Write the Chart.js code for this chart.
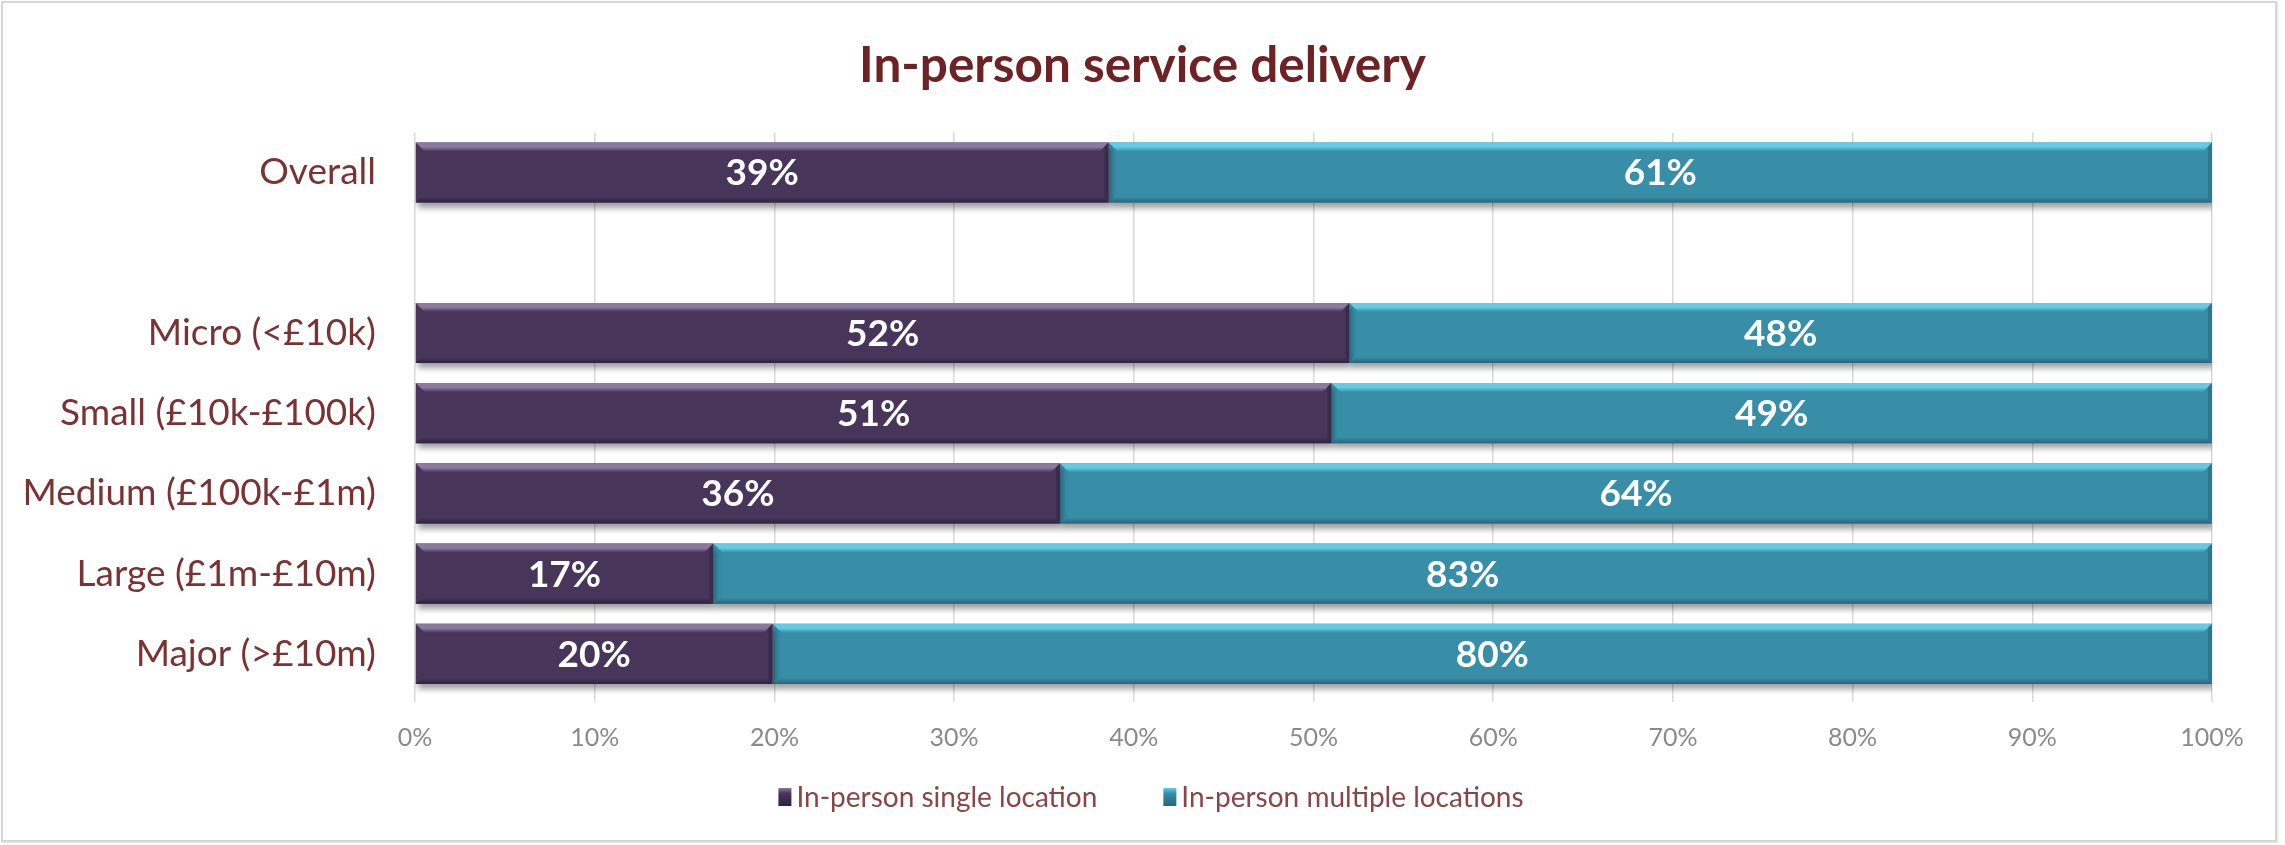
<!DOCTYPE html>
<html>
<head>
<meta charset="utf-8">
<script src="https://cdn.jsdelivr.net/npm/chart.js@4.4.1/dist/chart.umd.min.js"></script>
<style>
  html, body { margin: 0; padding: 0; background: #ffffff; }
  #wrap { position: absolute; left: 0; top: 0; width: 2285px; height: 845px; }
  #frame { position: absolute; left: 1px; top: 1px; width: 2272px; height: 837px;
           border: 2px solid #d6d6d6; box-shadow: 1px 1px 2px rgba(0,0,0,0.12); pointer-events: none; }
</style>
</head>
<body>
<div id="wrap">
  <canvas id="c" width="2285" height="845"></canvas>
  <div id="frame"></div>
</div>
<script>
const chartTitle = 'In-person service delivery';
const categories = ['Overall', '', 'Micro (<£10k)', 'Small (£10k-£100k)', 'Medium (£100k-£1m)', 'Large (£1m-£10m)', 'Major (>£10m)'];
const seriesNames = ['In-person single location', 'In-person multiple locations'];
const singleLocation = [38.6, null, 52.0, 51.0, 35.9, 16.6, 19.9];
const multipleLocations = [61.4, null, 48.0, 49.0, 64.1, 83.4, 80.1];
const xTickValues = [0, 10, 20, 30, 40, 50, 60, 70, 80, 90, 100];

const FONT = "Lato, 'Open Sans', sans-serif";
const colors = {
  purple: '#47365a', purpleLight: '#8a7aa0', purpleDark: '#2e2240',
  teal: '#388ea7', tealLight: '#63cbe6', tealDark: '#24667a',
  maroon: '#7a3232', legend: '#8a4646', title: '#6d2323', tick: '#8a8a8a', grid: '#d9d9d9'
};
const seriesColors = [
  { base: colors.purple, light: colors.purpleLight, dark: colors.purpleDark },
  { base: colors.teal, light: colors.tealLight, dark: colors.tealDark }
];

const shadowPlugin = {
  id: 'barShadow',
  beforeDatasetsDraw(chart) {
    const ctx = chart.ctx;
    ctx.save();
    ctx.shadowColor = 'rgba(0,0,0,0.38)';
    ctx.shadowBlur = 6;
    ctx.shadowOffsetX = 2;
    ctx.shadowOffsetY = 5;
  },
  afterDatasetsDraw(chart) {
    chart.ctx.restore();
  }
};

const bevelPlugin = {
  id: 'bevel',
  afterDatasetsDraw(chart) {
    const ctx = chart.ctx;
    chart.data.datasets.forEach((ds, di) => {
      const c = seriesColors[di];
      const meta = chart.getDatasetMeta(di);
      meta.data.forEach((el, i) => {
        if (ds.data[i] == null) return;
        const left = Math.min(el.base, el.x), right = Math.max(el.base, el.x);
        const top = el.y - el.height / 2, bottom = el.y + el.height / 2;
        ctx.save();
        let g = ctx.createLinearGradient(0, top, 0, top + 9);
        g.addColorStop(0, c.light);
        g.addColorStop(0.5, c.light);
        g.addColorStop(1, c.base);
        ctx.fillStyle = g;
        ctx.beginPath();
        ctx.moveTo(left, top);
        ctx.lineTo(right, top);
        ctx.lineTo(right - 9, top + 9);
        ctx.lineTo(left + 9, top + 9);
        ctx.closePath();
        ctx.fill();
        g = ctx.createLinearGradient(0, bottom - 6, 0, bottom);
        g.addColorStop(0, c.base);
        g.addColorStop(1, c.dark);
        ctx.fillStyle = g;
        ctx.beginPath();
        ctx.moveTo(left + 6, bottom - 6);
        ctx.lineTo(right - 6, bottom - 6);
        ctx.lineTo(right, bottom);
        ctx.lineTo(left, bottom);
        ctx.closePath();
        ctx.fill();
        ctx.fillStyle = c.dark;
        ctx.globalAlpha = 0.55;
        ctx.beginPath();
        ctx.moveTo(right - 4, top + 4);
        ctx.lineTo(right, top);
        ctx.lineTo(right, bottom);
        ctx.lineTo(right - 4, bottom - 4);
        ctx.closePath();
        ctx.fill();
        ctx.restore();
      });
    });
  }
};

const labelPlugin = {
  id: 'valueLabels',
  afterDatasetsDraw(chart) {
    const ctx = chart.ctx;
    ctx.save();
    ctx.font = `bold 37px ${FONT}`;
    ctx.fillStyle = '#ffffff';
    ctx.textAlign = 'center';
    ctx.textBaseline = 'middle';
    chart.data.datasets.forEach((ds, di) => {
      const meta = chart.getDatasetMeta(di);
      meta.data.forEach((el, i) => {
        const v = ds.data[i];
        if (v == null) return;
        ctx.fillText(Math.round(v) + '%', (el.base + el.x) / 2, el.y + 1);
      });
    });
    ctx.restore();
  }
};

// Legend drawn on the canvas from the datasets' labels and colours
const legendPlugin = {
  id: 'customLegend',
  afterDraw(chart) {
    const ctx = chart.ctx;
    const fontSize = 28, boxW = 13, boxH = 18, boxGap = 5, itemGap = 66;
    ctx.save();
    ctx.font = `${fontSize}px ${FONT}`;
    const items = chart.data.datasets.map((ds, i) => ({ text: ds.label, c: seriesColors[i],
      w: boxW + boxGap + ctx.measureText(ds.label).width }));
    const total = items.reduce((s, it) => s + it.w, 0) + itemGap * (items.length - 1);
    let x = 1151 - total / 2;
    const cy = 797;
    ctx.textBaseline = 'middle';
    ctx.textAlign = 'left';
    items.forEach(it => {
      const g = ctx.createLinearGradient(0, cy - boxH / 2, 0, cy + boxH / 2);
      g.addColorStop(0, it.c.light);
      g.addColorStop(0.3, it.c.base);
      g.addColorStop(1, it.c.dark);
      ctx.fillStyle = g;
      ctx.fillRect(x, cy - boxH / 2, boxW, boxH);
      ctx.fillStyle = colors.legend;
      ctx.fillText(it.text, x + boxW + boxGap, cy + 1);
      x += it.w + itemGap;
    });
    ctx.restore();
  }
};

new Chart(document.getElementById('c'), {
  type: 'bar',
  data: {
    labels: categories,
    datasets: [
      { label: seriesNames[0], data: singleLocation, backgroundColor: colors.purple, borderWidth: 0,
        barPercentage: 0.75, categoryPercentage: 1.0 },
      { label: seriesNames[1], data: multipleLocations, backgroundColor: colors.teal, borderWidth: 0,
        barPercentage: 0.75, categoryPercentage: 1.0 }
    ]
  },
  options: {
    indexAxis: 'y',
    responsive: false,
    animation: false,
    layout: { padding: { left: 10, right: 10, top: 0, bottom: 85 } },
    scales: {
      x: {
        stacked: true, min: 0, max: 100,
        afterBuildTicks(scale) { scale.ticks = xTickValues.map(v => ({ value: v })); },
        afterFit(scale) { scale.height = 66; },
        grid: { color: colors.grid, lineWidth: 1.5, tickLength: 8, drawOnChartArea: true },
        border: { display: false },
        ticks: { color: colors.tick, font: { family: FONT, size: 25 }, padding: 21,
                 autoSkip: false, maxRotation: 0, callback: v => v + '%' }
      },
      y: {
        stacked: true,
        afterFit(scale) { scale.width = 405; },
        grid: { display: false, drawTicks: false },
        border: { display: false },
        ticks: { color: colors.maroon, font: { family: FONT, size: 37 }, padding: 39 }
      },
      yMargin: {
        type: 'category', position: 'right', display: true,
        afterFit(scale) { scale.width = 63; },
        grid: { display: false, drawTicks: false },
        border: { display: false },
        ticks: { display: false }
      }
    },
    plugins: {
      title: { display: true, text: chartTitle, color: colors.title,
               font: { family: FONT, size: 49.5, weight: 'bold' }, padding: { top: 36, bottom: 37 } },
      legend: { display: false },
      tooltip: { enabled: false }
    }
  },
  plugins: [shadowPlugin, bevelPlugin, labelPlugin, legendPlugin]
});
</script>
</body>
</html>
